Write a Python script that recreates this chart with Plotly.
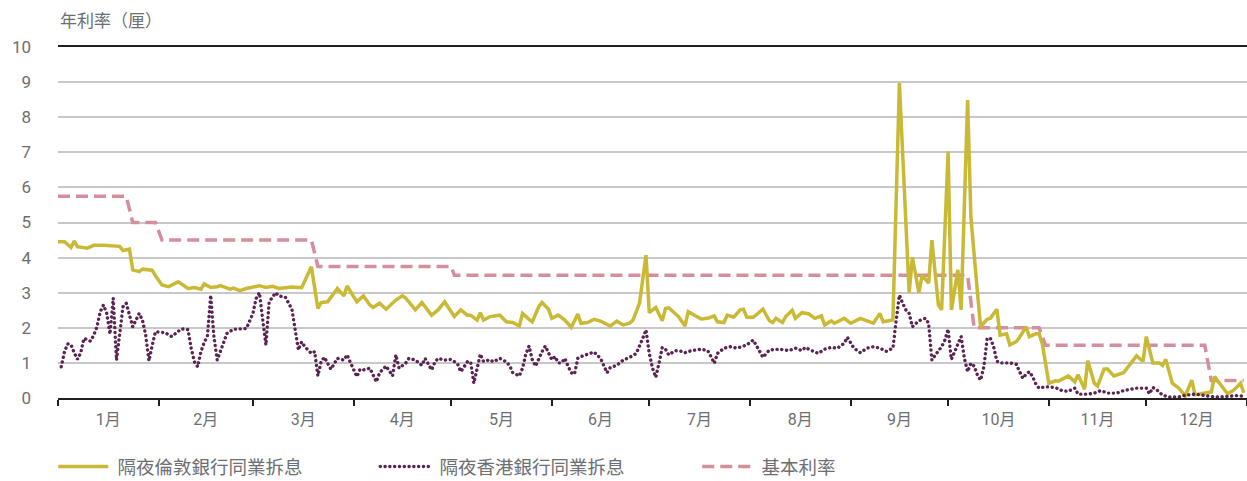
import pandas as pd
import plotly.graph_objects as go

YEAR_START = "2008-01-01"
MONTH_LABEL_FMT = "%-m月"

# Overnight LIBOR (day-of-year offset, % p.a.)
libor_day = [0, 2, 4, 5, 6, 9, 11, 14, 19, 20, 22, 23, 25, 26, 29, 30, 32, 34, 37, 40,
             42, 44, 45, 47, 49, 50, 53, 54, 56, 58, 62, 64, 66, 68, 72, 75, 78, 80, 81, 83,
             86, 88, 89, 91, 92, 94, 96, 97, 99, 101, 104, 106, 107, 110, 112, 115, 117, 119, 122, 124,
             126, 127, 129, 130, 131, 133, 136, 138, 140, 142, 143, 145, 146, 148, 149, 151, 152, 154, 156, 158,
             160, 161, 163, 165, 167, 170, 172, 174, 176, 177, 179, 181, 182, 184, 186, 187, 188, 191, 193, 194,
             196, 198, 200, 202, 203, 205, 206, 208, 210, 211, 212, 214, 217, 219, 220, 221, 223, 224, 226, 227,
             229, 231, 233, 235, 236, 238, 239, 242, 244, 247, 249, 251, 253, 254, 257, 259, 262, 263, 265, 266,
             268, 269, 271, 272, 274, 275, 277, 278, 280, 281, 283, 284, 286, 287, 289, 290, 292, 293, 295, 296,
             298, 299, 301, 302, 303, 305, 307, 308, 311, 313, 314, 316, 317, 319, 320, 322, 323, 325, 328, 330,
             332, 334, 335, 337, 339, 340, 341, 343, 345, 347, 349, 350, 353, 355, 356, 358, 360, 362, 364, 365]
libor = [4.45, 4.45, 4.29, 4.47, 4.31, 4.27, 4.35, 4.35, 4.32, 4.20, 4.24, 3.65, 3.60, 3.67, 3.64, 3.48, 3.22, 3.17, 3.31, 3.12,
         3.15, 3.10, 3.25, 3.15, 3.17, 3.20, 3.10, 3.13, 3.06, 3.12, 3.20, 3.15, 3.18, 3.12, 3.16, 3.14, 3.74, 2.55, 2.72, 2.74,
         3.12, 2.91, 3.19, 2.89, 2.74, 2.91, 2.65, 2.58, 2.70, 2.53, 2.79, 2.91, 2.85, 2.51, 2.72, 2.36, 2.51, 2.74, 2.32, 2.51,
         2.36, 2.36, 2.22, 2.43, 2.22, 2.32, 2.36, 2.17, 2.15, 2.05, 2.41, 2.24, 2.17, 2.60, 2.72, 2.53, 2.27, 2.36, 2.22, 2.01,
         2.39, 2.13, 2.15, 2.24, 2.19, 2.05, 2.19, 2.08, 2.13, 2.22, 2.70, 4.07, 2.43, 2.58, 2.20, 2.55, 2.57, 2.32, 2.05, 2.46,
         2.36, 2.25, 2.27, 2.34, 2.17, 2.15, 2.36, 2.30, 2.51, 2.53, 2.30, 2.30, 2.53, 2.20, 2.15, 2.27, 2.15, 2.32, 2.50, 2.27,
         2.43, 2.40, 2.27, 2.34, 2.08, 2.20, 2.13, 2.27, 2.13, 2.27, 2.20, 2.13, 2.41, 2.17, 2.22, 8.97, 3.00, 4.01, 3.00, 3.50,
         3.27, 4.50, 2.65, 2.51, 7.02, 2.51, 3.65, 2.51, 8.49, 5.17, 3.03, 2.03, 2.24, 2.27, 2.53, 1.79, 1.83, 1.51, 1.61, 1.73,
         2.03, 1.75, 1.83, 1.83, 1.54, 0.42, 0.49, 0.48, 0.63, 0.46, 0.66, 0.25, 1.06, 0.42, 0.34, 0.82, 0.83, 0.63, 0.72, 0.97,
         1.20, 1.04, 1.75, 1.00, 1.00, 0.93, 1.10, 0.42, 0.28, 0.06, 0.51, 0.09, 0.14, 0.17, 0.61, 0.37, 0.12, 0.23, 0.42, 0.15]

# Overnight HIBOR (day-of-year offset, % p.a.)
hibor_day = [1, 2, 3, 4, 5, 6, 7, 8, 10, 11, 12, 13, 14, 15, 16, 17, 18, 20, 21, 22,
             23, 25, 26, 27, 28, 29, 30, 33, 35, 38, 40, 41, 42, 43, 44, 45, 46, 47, 48, 49,
             50, 51, 52, 54, 58, 60, 61, 62, 64, 65, 67, 68, 70, 72, 73, 74, 75, 76, 78, 79,
             80, 81, 82, 83, 84, 85, 86, 88, 89, 90, 92, 93, 94, 96, 97, 98, 99, 101, 103, 104,
             105, 107, 108, 110, 112, 113, 115, 116, 117, 119, 121, 123, 124, 125, 126, 127, 128, 129, 130, 131,
             133, 134, 136, 138, 139, 140, 142, 143, 144, 145, 146, 147, 148, 149, 150, 151, 152, 153, 154, 155,
             156, 157, 158, 159, 160, 161, 163, 165, 167, 168, 169, 170, 172, 174, 176, 178, 179, 180, 181, 182,
             183, 184, 185, 186, 187, 188, 190, 192, 193, 195, 198, 200, 201, 202, 203, 205, 207, 209, 212, 214,
             215, 216, 217, 219, 222, 225, 227, 229, 230, 232, 234, 236, 238, 240, 242, 243, 245, 247, 249, 251,
             253, 255, 257, 258, 259, 260, 261, 262, 263, 265, 267, 268, 269, 270, 272, 273, 274, 275, 276, 277,
             278, 279, 280, 281, 282, 283, 284, 285, 286, 287, 288, 289, 290, 293, 295, 296, 297, 298, 299, 300,
             301, 302, 304, 307, 309, 311, 313, 314, 317, 319, 321, 323, 326, 328, 330, 332, 335, 336, 337, 338,
             340, 342, 345, 347, 350, 353, 356, 359, 363, 365]
hibor = [0.89, 1.32, 1.54, 1.52, 1.29, 1.10, 1.29, 1.70, 1.62, 1.79, 2.03, 2.46, 2.65, 2.41, 1.82, 2.84, 1.08, 2.60, 2.70, 2.33,
         2.03, 2.41, 2.22, 1.79, 1.06, 1.50, 1.89, 1.86, 1.75, 1.97, 1.95, 1.41, 1.03, 0.89, 1.32, 1.58, 1.77, 2.93, 1.75, 1.08,
         1.32, 1.56, 1.84, 1.96, 1.98, 2.41, 2.84, 3.00, 1.51, 2.74, 3.00, 2.91, 2.87, 2.53, 1.89, 1.37, 1.60, 1.46, 1.27, 1.32,
         0.63, 1.04, 1.16, 0.97, 0.82, 0.97, 1.13, 1.08, 1.23, 1.01, 0.61, 0.82, 0.80, 0.85, 0.68, 0.46, 0.72, 0.91, 0.63, 1.23,
         0.85, 0.99, 1.13, 1.08, 0.93, 1.13, 0.80, 1.02, 1.13, 1.08, 1.10, 0.97, 0.75, 0.89, 1.03, 1.03, 0.42, 0.83, 1.25, 1.04,
         1.09, 1.03, 1.13, 1.03, 0.93, 0.72, 0.63, 0.85, 1.25, 1.48, 1.09, 0.91, 1.13, 1.32, 1.48, 1.29, 1.09, 1.18, 1.00, 1.00,
         1.13, 0.91, 0.72, 0.68, 1.13, 1.18, 1.25, 1.31, 1.13, 0.93, 0.72, 0.87, 0.93, 1.08, 1.16, 1.27, 1.46, 1.70, 1.94, 1.27,
         0.85, 0.59, 0.99, 1.44, 1.39, 1.23, 1.35, 1.33, 1.29, 1.35, 1.39, 1.35, 1.18, 0.99, 1.27, 1.42, 1.46, 1.42, 1.51, 1.65,
         1.49, 1.30, 1.16, 1.37, 1.39, 1.35, 1.42, 1.35, 1.44, 1.35, 1.27, 1.39, 1.44, 1.42, 1.56, 1.73, 1.42, 1.29, 1.42, 1.46,
         1.42, 1.33, 1.42, 2.20, 2.93, 2.70, 2.51, 2.41, 2.03, 2.20, 2.27, 2.13, 1.08, 1.22, 1.46, 1.65, 1.96, 1.10, 1.32, 1.56,
         1.75, 1.13, 0.75, 0.99, 0.91, 0.66, 0.51, 0.89, 1.70, 1.70, 1.46, 1.05, 1.00, 1.00, 0.96, 0.75, 0.56, 0.68, 0.75, 0.61,
         0.40, 0.28, 0.32, 0.30, 0.21, 0.19, 0.28, 0.11, 0.11, 0.14, 0.21, 0.14, 0.14, 0.21, 0.25, 0.28, 0.28, 0.12, 0.30, 0.25,
         0.08, 0.03, 0.03, 0.08, 0.11, 0.06, 0.03, 0.04, 0.07, 0.05]

# Base rate (day-of-year offset, % p.a.)
base_day = [0, 21, 23, 30, 32, 78, 80, 121, 122, 280, 282, 302, 304, 353, 355, 365]
base_rate = [5.75, 5.75, 5.00, 5.00, 4.50, 4.50, 3.75, 3.75, 3.50, 3.50, 2.00, 2.00, 1.50, 1.50, 0.50, 0.50]

series_names = ["隔夜倫敦銀行同業拆息", "隔夜香港銀行同業拆息", "基本利率"]
y_title = "年利率（厘）"
y_ticks = list(range(0, 11))

start = pd.Timestamp(YEAR_START)


def to_dates(days):
    return start + pd.to_timedelta(days, unit="D")


TEXT = "#6d6e71"
CJK = "Noto Sans CJK TC"
NUM = "Roboto, Noto Sans CJK TC"
HIBOR_COLOR = "#5a2352"
PAD = "\u00a0"

fig = go.Figure()
fig.add_trace(go.Scatter(
    x=to_dates(base_day), y=base_rate, name=PAD + series_names[2], mode="lines",
    line=dict(color="#d58e9c", width=3.5, dash="12px,6px"), legendrank=3))
fig.add_trace(go.Scatter(
    x=to_dates(libor_day), y=libor, name=PAD + series_names[0], mode="lines",
    line=dict(color="#c9b935", width=3.5), legendrank=1))
fig.add_trace(go.Scatter(
    x=to_dates(hibor_day), y=hibor, name=PAD + series_names[1], mode="lines",
    line=dict(color=HIBOR_COLOR, width=3.4, dash="2px,3px"), legendrank=2))

fig.update_layout(
    width=1247, height=481,
    margin=dict(l=58, r=0, t=47, b=83, autoexpand=False),
    paper_bgcolor="white", plot_bgcolor="white",
    font=dict(family=CJK, color=TEXT, size=16),
    showlegend=True,
    legend=dict(orientation="h", x=-0.004, xanchor="left", y=-0.1966, yanchor="middle",
                font=dict(family=CJK, size=18.5, color=TEXT),
                entrywidth=257, entrywidthmode="pixels", itemwidth=50,
                bgcolor="rgba(0,0,0,0)", traceorder="normal"),
    annotations=[dict(text=y_title, xref="paper", yref="paper", x=0, y=1.0,
                      yshift=28, xanchor="left", yanchor="middle", showarrow=False,
                      font=dict(family=CJK, size=17, color=TEXT))],
)
fig.update_xaxes(
    type="date", range=[start, start + pd.DateOffset(years=1)], automargin=False,
    tick0=start, dtick="M1", tickformat=MONTH_LABEL_FMT, ticklabelmode="period",
    ticks="outside", ticklen=6, tickwidth=1.5, tickcolor="#231f20",
    showline=True, linecolor="#231f20", linewidth=2, mirror=True,
    showgrid=False, zeroline=False,
    tickfont=dict(family=NUM, size=16, color=TEXT),
)
fig.update_yaxes(
    range=[0, 10], tickvals=y_ticks, showgrid=True, gridcolor="#c8c8cb", gridwidth=1.5,
    zeroline=False, showline=False, ticks="", ticklabelstandoff=26, automargin=False,
    tickfont=dict(family=NUM, size=17, color=TEXT),
)

post = """
document.body.style.margin = '0';
var gd = document.getElementById('{plot_id}');
gd.querySelectorAll('path').forEach(function (p) {
  var s = (p.style.stroke || p.getAttribute('stroke') || '').replace(/\\s/g, '');
  if (s === 'rgb(90,35,82)' || s === '#5a2352') {
    p.style.strokeLinecap = 'round';
    p.style.strokeDasharray = '0.1px,4.7px';
  }
});
"""

fig.write_html("out.html", post_script=post, config={"displayModeBar": False})
